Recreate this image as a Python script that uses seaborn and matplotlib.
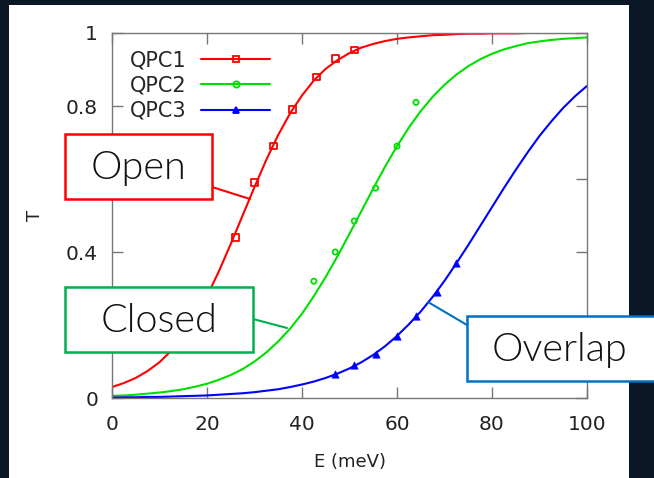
import numpy as np
import matplotlib
matplotlib.use("Agg")
import matplotlib.pyplot as plt
import seaborn as sns
from matplotlib.patches import Rectangle
from matplotlib.lines import Line2D

# fitted curves, every 2.5 meV
energy = [0, 2.5, 5, 7.5, 10, 12.5, 15, 17.5, 20, 22.5, 25, 27.5, 30, 32.5, 35,
          37.5, 40, 42.5, 45, 47.5, 50, 52.5, 55, 57.5, 60, 62.5, 65, 67.5, 70,
          72.5, 75, 77.5, 80, 82.5, 85, 87.5, 90, 92.5, 95, 97.5, 100]
qpc1_fit = [0.030, 0.041, 0.055, 0.074, 0.098, 0.130, 0.170, 0.220, 0.279, 0.347,
            0.422, 0.500, 0.578, 0.653, 0.721, 0.780, 0.829, 0.870, 0.902, 0.926,
            0.945, 0.960, 0.970, 0.978, 0.984, 0.988, 0.991, 0.994, 0.995, 0.997,
            0.998, 0.998, 0.999, 0.999, 0.999, 1.0, 1.0, 1.0, 1.0, 1.0, 1.0]
qpc2_fit = [0.006, 0.007, 0.009, 0.012, 0.015, 0.019, 0.024, 0.031, 0.039, 0.050,
            0.063, 0.079, 0.100, 0.125, 0.155, 0.190, 0.231, 0.279, 0.332, 0.389,
            0.450, 0.512, 0.574, 0.634, 0.690, 0.741, 0.786, 0.825, 0.858, 0.886,
            0.909, 0.928, 0.943, 0.955, 0.964, 0.972, 0.977, 0.981, 0.984, 0.986, 0.988]
qpc3_fit = [0.001, 0.002, 0.002, 0.003, 0.003, 0.004, 0.005, 0.006, 0.007, 0.009,
            0.011, 0.013, 0.016, 0.020, 0.024, 0.030, 0.037, 0.045, 0.055, 0.067,
            0.081, 0.098, 0.118, 0.142, 0.170, 0.202, 0.237, 0.277, 0.321, 0.369,
            0.419, 0.471, 0.523, 0.575, 0.625, 0.673, 0.718, 0.758, 0.795, 0.827, 0.855]

# measured points
qpc1_x = [26, 30, 34, 38, 43, 47, 51]
qpc1_y = [0.44, 0.59, 0.69, 0.79, 0.88, 0.93, 0.953]
qpc2_x = [42.5, 47, 51, 55.5, 60, 64]
qpc2_y = [0.32, 0.40, 0.485, 0.575, 0.69, 0.81]
qpc3_x = [47, 51, 55.5, 60, 64, 68.5, 72.5]
qpc3_y = [0.065, 0.09, 0.12, 0.17, 0.225, 0.29, 0.37]

labels = ["QPC1", "QPC2", "QPC3"]
colors = ["#ff0000", "#00e000", "#0000ff"]
markers = ["s", "o", "^"]

sns.set_style("ticks")
plt.rcParams["font.family"] = ["DejaVu Sans"]

W, H = 654, 478
fig = plt.figure(figsize=(W / 100, H / 100), dpi=100, facecolor="#0b1725")


def px(x, y):
    return x / W, 1 - y / H


# white slide panel
fig.add_artist(Rectangle(px(9, 478), 620 / W, 473 / H, transform=fig.transFigure,
                         facecolor="white", edgecolor="none", zorder=-1))

ax = fig.add_axes([112 / W, 1 - 398 / H, 475 / W, 365 / H])
ax.set_facecolor("white")

fits = [qpc1_fit, qpc2_fit, qpc3_fit]
pts = [(qpc1_x, qpc1_y), (qpc2_x, qpc2_y), (qpc3_x, qpc3_y)]
for fit, (mx, my), c, m in zip(fits, pts, colors, markers):
    sns.lineplot(x=energy, y=fit, color=c, lw=1.5, ax=ax)
    if m == "^":
        sns.scatterplot(x=mx, y=my, marker=m, s=28, color=c, edgecolor=c, ax=ax, zorder=3)
    else:
        sns.scatterplot(x=mx, y=my, marker=m, s=22 if m == "s" else 14,
                        facecolor="none", edgecolor=c, linewidth=1.3, ax=ax, zorder=3)

ax.set_xlim(0, 100)
ax.set_ylim(0, 1)
ax.set_xticks([0, 20, 40, 60, 80, 100])
ax.set_yticks([0, 0.2, 0.4, 0.6, 0.8, 1])
ax.set_yticklabels(["0", "0.2", "0.4", "0.6", "0.8", "1"])
ax.tick_params(direction="in", length=8, width=1, color="#777777",
               top=True, right=True, labelsize=14.5, labelcolor="#222222")
ax.tick_params(axis="y", pad=10)
ax.tick_params(axis="x", pad=12)
for s in ax.spines.values():
    s.set_color("#777777")
    s.set_linewidth(1)
ax.set_xlabel("E (meV)", fontsize=13, color="#222222", labelpad=14)
ax.set_ylabel("T", fontsize=13, color="#222222", labelpad=16)

handles = []
for lab, c, m in zip(labels, colors, markers):
    filled = m == "^"
    handles.append(Line2D([], [], color=c, lw=1.5, marker=m, markersize=5 if m != "o" else 4.5,
                          markerfacecolor=c if filled else "none", markeredgecolor=c,
                          markeredgewidth=1.3, label=lab))
ax.legend(handles=handles, loc="upper left", bbox_to_anchor=(0.038, 0.952),
          frameon=False, markerfirst=False, fontsize=15, handlelength=3.3,
          handletextpad=0.7, labelspacing=0.25, borderpad=0, borderaxespad=0)

# callout boxes
boxes = [("Open", (65, 134, 212, 199), "#ff0000", ((212, 187), (250, 199))),
         ("Closed", (65, 287, 253, 352), "#00b050", ((253, 319), (287, 328))),
         ("Overlap", (467, 316, 660, 381), "#0070c0", ((467, 325), (428, 302)))]
for text, (x0, y0, x1, y1), ec, (p0, p1) in boxes:
    fig.add_artist(Line2D([p0[0] / W, p1[0] / W], [1 - p0[1] / H, 1 - p1[1] / H],
                          transform=fig.transFigure, color=ec, lw=1.5, zorder=5))
    fig.add_artist(Rectangle(px(x0, y1), (x1 - x0) / W, (y1 - y0) / H,
                             transform=fig.transFigure, facecolor="white",
                             edgecolor=ec, lw=1.8, zorder=6))
    cx = (x0 + x1) / 2 if text != "Overlap" else 560
    fig.text(cx / W, 1 - ((y0 + y1) / 2 + 1) / H, text, ha="center", va="center",
             fontsize=28.5, family=["Lato", "DejaVu Sans"], fontweight=300,
             color="#111111", zorder=7)

fig.savefig("out.png", dpi=100, facecolor=fig.get_facecolor())
